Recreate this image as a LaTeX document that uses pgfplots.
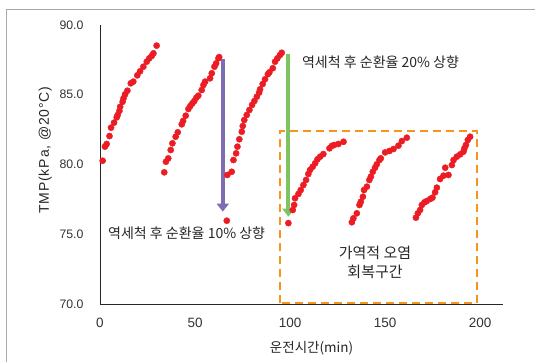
\documentclass[border=0pt]{standalone}
\usepackage{pgfplots}
\pgfplotsset{compat=1.18}
\usepackage{pgfplotstable}
\usepackage{fontspec}
\setmainfont{Liberation Sans}
\newfontfamily\kr{Noto Sans CJK KR}
\newfontfamily\lsp{Liberation Sans}[LetterSpace=6]
\usetikzlibrary{arrows.meta}
\definecolor{ptred}{HTML}{EB1C24}
\definecolor{arrpurple}{HTML}{7F6DB3}
\definecolor{arrgreen}{HTML}{7DC462}
\definecolor{boxorange}{HTML}{F7941D}
\definecolor{framegray}{HTML}{A8A8A8}

\pgfplotstableread{
t v
1.4 80.27
2.6 81.28
3.5 81.47
5.0 82.04
5.8 82.64
7.4 83.00
8.8 83.38
9.3 83.55
10.2 83.84
10.6 84.14
11.9 84.50
12.4 84.75
13.2 85.03
14.4 85.29
16.2 85.82
17.5 85.94
19.6 86.39
21.1 86.68
22.8 87.01
24.6 87.37
25.9 87.61
27.2 87.78
28.1 87.97
29.8 88.52
33.8 79.44
34.7 80.20
35.9 80.44
37.2 81.04
38.1 81.52
39.8 81.99
40.9 82.31
43.0 82.88
43.7 83.12
45.1 83.50
46.5 83.98
47.5 84.19
48.6 84.39
49.6 84.55
50.7 84.79
51.7 84.93
53.5 85.34
54.4 85.70
55.3 85.94
57.9 86.18
58.8 86.54
60.2 87.01
61.1 87.25
62.3 87.61
62.7 87.70
66.7 75.97
67.0 79.25
69.3 79.48
70.2 80.32
71.6 80.80
72.3 81.28
73.3 81.81
74.6 82.35
75.1 82.76
75.9 83.19
77.2 83.55
78.6 83.91
80.0 84.27
81.2 84.55
82.5 84.86
83.7 85.15
84.2 85.39
85.6 85.77
86.8 86.11
88.3 86.47
89.1 86.61
90.9 86.90
92.1 87.37
93.3 87.61
94.7 87.85
95.6 88.01
99.1 75.80
101.4 76.74
102.1 77.10
102.6 77.58
104.4 77.89
105.6 78.17
107.0 78.53
108.4 78.89
109.6 79.32
110.5 79.61
111.9 79.84
113.2 80.09
114.4 80.37
115.8 80.56
117.5 80.75
120.7 81.16
121.9 81.33
123.2 81.40
125.4 81.47
128.1 81.63
132.5 75.86
133.3 76.14
135.1 76.50
136.5 77.10
137.2 77.33
138.3 77.69
138.9 78.17
140.4 78.41
141.7 78.89
142.5 79.13
143.5 79.48
144.7 79.77
145.6 80.01
147.0 80.32
147.7 80.44
150.0 80.87
152.3 80.97
154.4 81.11
157.0 81.35
158.8 81.68
161.4 81.92
166.2 76.19
167.2 76.50
168.4 76.74
169.3 77.10
170.7 77.29
171.9 77.38
173.7 77.53
174.9 77.62
176.3 78.01
177.2 78.34
178.9 78.96
180.7 79.20
181.6 79.77
183.3 79.25
185.1 79.96
186.0 80.32
187.7 80.56
189.5 80.73
191.2 80.92
191.7 81.16
192.5 81.40
193.5 81.76
194.7 81.99
}\tmpdata

\begin{document}
\begin{tikzpicture}
\useasboundingbox (0,0) rectangle (535bp,362bp);
\draw[framegray, line width=0.8bp] (6bp,0bp) -- (6bp,353bp) -- (535bp,353bp);
\begin{axis}[
  at={(100bp,58bp)}, anchor=south west,
  scale only axis, width=403bp, height=279bp,
  xmin=0, xmax=212, ymin=70, ymax=90,
  axis x line*=bottom, axis y line*=left,
  axis line style={black!85, line width=0.9bp, -},
  xtick={0,50,100,150,200}, ytick={70,75,80,85,90},
  major tick length=0pt,
  /pgf/number format/assume math mode=true,
  yticklabel style={/pgf/number format/.cd, fixed, fixed zerofill, precision=1, /tikz/.cd, xshift=-13bp, font=\fontsize{12.3bp}{14bp}\selectfont, text=black!80},
  xticklabel style={yshift=-11bp, font=\fontsize{13.5bp}{15bp}\selectfont, text=black!80},
  xlabel={\kr 운전시간(min)},
  ylabel={\lsp TMP(kPa, @20°C)},
  xlabel style={at={(rel axis cs:0.525,-0.158)}, anchor=center, font=\fontsize{13.5bp}{15bp}\selectfont, text=black!85},
  ylabel style={at={(rel axis cs:-0.136,0.552)}, anchor=center, font=\fontsize{14bp}{16bp}\selectfont, text=black!85},
  clip=false,
]
\addplot[only marks, mark=*, mark size=3.1bp, color=ptred, mark options={draw=ptred, fill=ptred}] table[x=t, y=v] {\tmpdata};
\draw[arrpurple, line width=4bp, -{Triangle[width=12bp,length=8bp]}] (axis cs:64.6,87.54) -- (axis cs:64.6,76.62);
\draw[arrgreen, line width=4bp, -{Triangle[width=12bp,length=8bp]}] (axis cs:99.1,87.92) -- (axis cs:99.1,76.26);
\draw[boxorange, line width=2bp, dash pattern=on 8bp off 5bp] (axis cs:94.7,70.05) rectangle (axis cs:198.3,82.4);
\node[anchor=west, font=\kr\fontsize{14bp}{16bp}\selectfont, text=black!85, inner sep=0pt] at (axis cs:106.2,87.3) {역세척 후 순환율 20\% 상향};
\node[anchor=west, font=\kr\fontsize{14bp}{16bp}\selectfont, text=black!85, inner sep=0pt] at (axis cs:4.2,75.09) {역세척 후 순환율 10\% 상향};
\node[align=center, font=\kr\fontsize{15bp}{19bp}\selectfont, text=black!85] at (axis cs:144.7,73.0) {가역적 오염\\회복구간};
\end{axis}
\end{tikzpicture}
\end{document}
